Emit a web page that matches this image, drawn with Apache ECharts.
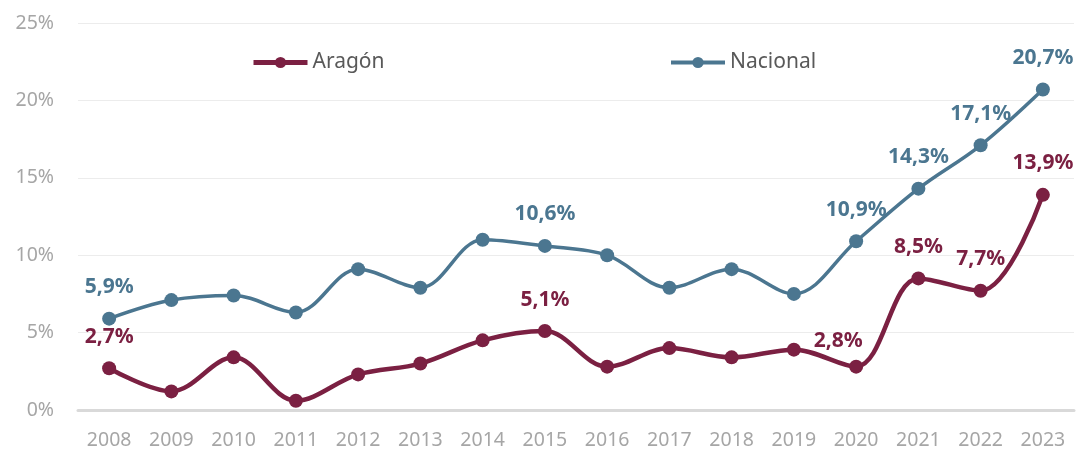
<!DOCTYPE html>
<html>
<head>
<meta charset="utf-8">
<script src="https://cdn.jsdelivr.net/npm/echarts@6/dist/echarts.min.js"></script>
<style>
  html, body { margin: 0; padding: 0; background: #fff; }
  #main { width: 1083px; height: 451px; }
</style>
</head>
<body>
<div id="main"></div>
<script>
var years = ['2008', '2009', '2010', '2011', '2012', '2013', '2014', '2015',
  '2016', '2017', '2018', '2019', '2020', '2021', '2022', '2023'];
var aragon = [2.7, 1.2, 3.4, 0.6, 2.3, 3.0, 4.5, 5.1, 2.8, 4.0, 3.4, 3.9, 2.8, 8.5, 7.7, 13.9];
var nacional = [5.9, 7.1, 7.4, 6.3, 9.1, 7.9, 11.0, 10.6, 10.0, 7.9, 9.1, 7.5, 10.9, 14.3, 17.1, 20.7];
// years whose value is written on the chart
var labelled = ['2008', '2015', '2020', '2021', '2022', '2023'];

var chartDom = document.getElementById('main');
var myChart = echarts.init(chartDom);
var option;

var FONT = 'Noto Sans';
var RED = '#7b2042';
var BLUE = '#4b7690';

function fmt(v) {
  return v.toFixed(1).replace('.', ',') + '%';
}

function points(values, special) {
  return values.map(function (v, i) {
    var item = { value: v };
    if (labelled.indexOf(years[i]) >= 0) {
      item.label = { show: true };
      if (special && special[years[i]]) {
        item.label.offset = special[years[i]];
      }
    }
    return item;
  });
}

function legendFor(name, left, width) {
  return {
    data: [name],
    left: left,
    top: 47,
    itemWidth: 54,
    itemHeight: 14,
    itemGap: 3,
    lineStyle: { width: width },
    textStyle: { fontFamily: FONT, fontSize: 21, color: '#595959' }
  };
}

option = {
  animation: false,
  grid: { left: 78, right: 9, top: 23, bottom: 41 },
  legend: [
    legendFor('Aragón', 246, 5),
    legendFor('Nacional', 664, 4)
  ],
  xAxis: {
    type: 'category',
    data: years,
    boundaryGap: true,
    axisLine: { lineStyle: { color: '#d9d9d9', width: 3 } },
    axisTick: { show: false },
    axisLabel: { color: '#a6a6a6', fontFamily: FONT, fontSize: 19.5, margin: 20 }
  },
  yAxis: {
    type: 'value',
    min: 0,
    max: 25,
    interval: 5,
    axisLine: { show: false },
    axisTick: { show: false },
    axisLabel: {
      color: '#a6a6a6',
      fontFamily: FONT,
      fontSize: 19.5,
      margin: 24,
      formatter: '{value}%'
    },
    splitLine: { lineStyle: { color: '#ececec', width: 1 } }
  },
  series: [
    {
      name: 'Aragón',
      type: 'line',
      smooth: 0.35,
      data: points(aragon, { '2020': [-18, 6] }),
      symbol: 'circle',
      symbolSize: 14,
      lineStyle: { color: RED, width: 4.5 },
      itemStyle: { color: RED },
      label: {
        show: false,
        position: 'top',
        distance: 14,
        color: RED,
        fontFamily: FONT,
        fontSize: 21,
        fontWeight: 'bold',
        formatter: function (p) { return fmt(p.value); }
      }
    },
    {
      name: 'Nacional',
      type: 'line',
      smooth: 0.35,
      data: points(nacional),
      symbol: 'circle',
      symbolSize: 14,
      lineStyle: { color: BLUE, width: 3.5 },
      itemStyle: { color: BLUE },
      label: {
        show: false,
        position: 'top',
        distance: 14,
        color: BLUE,
        fontFamily: FONT,
        fontSize: 21,
        fontWeight: 'bold',
        formatter: function (p) { return fmt(p.value); }
      }
    }
  ]
};

option && myChart.setOption(option);
</script>
</body>
</html>
